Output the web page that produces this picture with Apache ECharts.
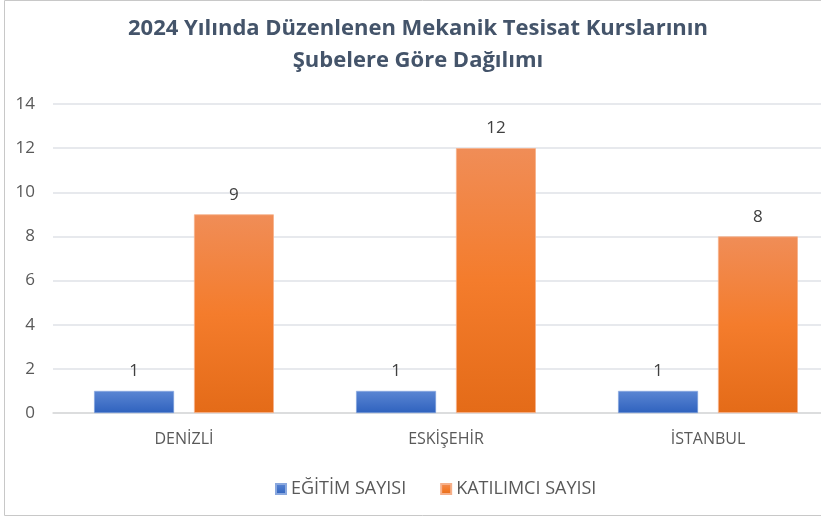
<!DOCTYPE html>
<html>
<head>
<meta charset="utf-8">
<script src="https://cdn.jsdelivr.net/npm/echarts@6/dist/echarts.min.js"></script>
<style>
  html, body { margin: 0; padding: 0; background: #ffffff; overflow: hidden; }
  /* plot area runs past the right edge of the window in the reference */
  #chart { width: 840px; height: 521px; }
</style>
</head>
<body>
<div id="chart"></div>
<script>
const titleText = '2024 Yılında Düzenlenen Mekanik Tesisat Kurslarının\nŞubelere Göre Dağılımı';
const categories = ['DENİZLİ', 'ESKİŞEHİR', 'İSTANBUL'];
const seriesNames = ['EĞİTİM SAYISI', 'KATILIMCI SAYISI'];
const egitimSayisi = [1, 1, 1];
const katilimciSayisi = [9, 12, 8];

const chart = echarts.init(document.getElementById('chart'));

const blueFill = new echarts.graphic.LinearGradient(0, 0, 0, 1, [
  { offset: 0, color: '#5b86d3' },
  { offset: 1, color: '#2f62be' }
]);
const orangeFill = new echarts.graphic.LinearGradient(0, 0, 0, 1, [
  { offset: 0, color: '#f08d57' },
  { offset: 0.5, color: '#f47c2c' },
  { offset: 1, color: '#e46b18' }
]);

const labelStyle = {
  show: true,
  position: 'top',
  distance: 11,
  color: '#404040',
  fontSize: 17,
  fontFamily: 'Open Sans'
};

const option = {
  animation: false,
  textStyle: { fontFamily: 'Open Sans' },
  title: {
    text: titleText,
    left: 413,
    textAlign: 'center',
    top: 8,
    textStyle: {
      fontSize: 22,
      fontWeight: 'bold',
      color: '#44546a',
      lineHeight: 32,
      fontFamily: 'Open Sans'
    }
  },
  graphic: [{
    type: 'rect',
    silent: true,
    shape: { x: 4.5, y: 0.5, width: 850, height: 515 },
    style: { fill: 'none', stroke: '#c8c8c8', lineWidth: 1 }
  }],
  legend: {
    data: seriesNames,
    bottom: 18,
    left: 270,
    itemWidth: 10,
    itemHeight: 10,
    itemGap: 34,
    icon: 'rect',
    textStyle: { color: '#595959', fontSize: 18 }
  },
  grid: {
    left: 53,
    right: 1,
    top: 104,
    bottom: 108
  },
  xAxis: {
    type: 'category',
    data: categories,
    axisLine: { show: true, lineStyle: { color: '#d9d9d9', width: 1.5 } },
    axisTick: { show: false },
    axisLabel: { color: '#595959', fontSize: 16, margin: 18 }
  },
  yAxis: {
    type: 'value',
    min: 0,
    max: 14,
    interval: 2,
    axisLine: { show: false },
    axisTick: { show: false },
    axisLabel: { color: '#595959', fontSize: 17, margin: 18 },
    splitLine: { lineStyle: { color: '#dfe2e7', width: 1.5 } }
  },
  series: [
    {
      name: seriesNames[0],
      type: 'bar',
      data: egitimSayisi,
      barWidth: '30.5%',
      barGap: '25%',
      itemStyle: { color: blueFill, borderColor: '#8aa8de', borderWidth: 0.5 },
      label: labelStyle
    },
    {
      name: seriesNames[1],
      type: 'bar',
      data: katilimciSayisi,
      barWidth: '30.5%',
      itemStyle: { color: orangeFill, borderColor: '#f6b08a', borderWidth: 0.8 },
      label: labelStyle
    }
  ]
};

chart.setOption(option);
</script>
</body>
</html>
